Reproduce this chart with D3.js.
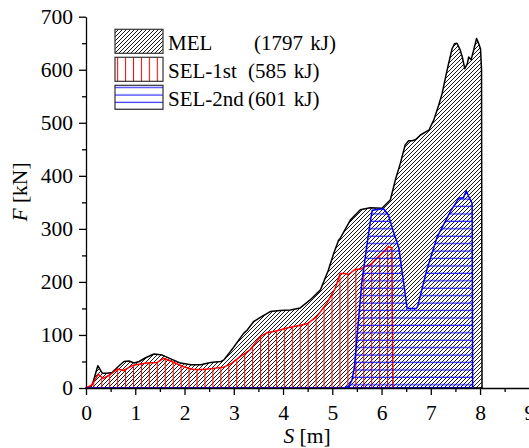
<!DOCTYPE html>
<html>
<head>
<meta charset="utf-8">
<script src="https://cdn.jsdelivr.net/npm/d3@7"></script>
<style>
  body { margin: 0; background: #fff; }
  svg { display: block; }
</style>
</head>
<body>
<svg id="chart"></svg>
<script>
// MEL curve
const melS = [0, 0.10, 0.14, 0.24, 0.33, 0.43, 0.53, 0.65, 0.77, 0.87, 0.98, 1.08, 1.21, 1.38, 1.55, 1.72, 1.92, 2.13, 2.33, 2.53, 2.74, 2.80, 2.99, 3.20, 3.27, 3.40, 3.54, 3.74, 3.94, 4.15, 4.35, 4.55, 4.76, 4.92, 5.03, 5.13, 5.16, 5.37, 5.57, 5.77, 6.01, 6.18, 6.28, 6.38, 6.48, 6.55, 6.62, 6.69, 6.79, 6.96, 7.06, 7.16, 7.23, 7.30, 7.36, 7.43, 7.48, 7.53, 7.59, 7.64, 7.69, 7.74, 7.77, 7.82, 7.87, 7.93, 7.97, 8.01, 8.03, 8.04];
const melF = [0, 2, 10, 42, 28, 28, 29, 40, 50, 51, 47, 50, 57, 64, 62, 55, 47, 44, 44, 48, 50, 53, 76, 103, 109, 125, 133, 144, 146, 147, 151, 166, 185, 222, 254, 279, 282, 317, 336, 340, 339, 355, 392, 423, 458, 466, 466, 468, 477, 486, 505, 533, 555, 586, 611, 639, 649, 650, 639, 624, 602, 611, 624, 619, 637, 659, 650, 639, 600, 0];

// SEL-1st curve
const sel1S = [0, 0.12, 0.25, 0.35, 0.49, 0.64, 0.76, 0.96, 1.23, 1.44, 1.57, 1.74, 1.98, 2.18, 2.38, 2.59, 2.79, 2.96, 3.13, 3.33, 3.54, 3.67, 3.88, 4.08, 4.28, 4.49, 4.69, 4.89, 5.06, 5.16, 5.26, 5.33, 5.47, 5.57, 5.67, 5.77, 5.91, 6.08, 6.14, 6.21, 6.23];
const sel1F = [0, 6, 26, 18, 25, 36, 33, 43, 47, 48, 56, 50, 40, 35, 35, 37, 39, 47, 59, 72, 97, 104, 108, 113, 117, 121, 135, 160, 188, 216, 216, 214, 224, 224, 229, 232, 245, 260, 267, 264, 0];

// SEL-2nd curve
const sel2S = [0, 5.23, 5.33, 5.40, 5.45, 5.60, 5.75, 5.81, 6.04, 6.14, 6.25, 6.31, 6.35, 6.52, 6.70, 6.73, 6.92, 7.13, 7.26, 7.40, 7.57, 7.66, 7.72, 7.77, 7.84, 7.85];
const sel2F = [0, 0, 3, 15, 40, 200, 300, 335, 338, 326, 292, 276, 265, 150, 150, 153, 223, 285, 308, 333, 358, 358, 372, 361, 348, 0];

const xTicks = [0, 1, 2, 3, 4, 5, 6, 7, 8, 9];
const yTicks = [0, 100, 200, 300, 400, 500, 600, 700];
const legendNames = ["MEL", "SEL-1st", "SEL-2nd"];
const legendEnergy = ["(1797 kJ)", "(585 kJ)", "(601 kJ)"];

const FONT = '"Liberation Serif"';
const width = 529, height = 448;
const svg = d3.select("#chart").attr("width", width).attr("height", height)
    .attr("font-family", "Liberation Serif");

const x = d3.scaleLinear().domain([0, 9]).range([86, 529.3]);
const y = d3.scaleLinear().domain([0, 700]).range([388, 16.7]);

// hatch patterns
const defs = svg.append("defs");
defs.append("pattern")
    .attr("id", "hatchDiag")
    .attr("patternUnits", "userSpaceOnUse")
    .attr("width", 4).attr("height", 4)
    .append("path")
    .attr("d", "M-1,1 L1,-1 M0,4 L4,0 M3,5 L5,3")
    .attr("stroke", "#000").attr("stroke-width", 0.9);
defs.append("pattern")
    .attr("id", "hatchVert")
    .attr("patternUnits", "userSpaceOnUse")
    .attr("width", 7.94).attr("height", 8)
    .append("line")
    .attr("x1", 6.5).attr("x2", 6.5).attr("y1", 0).attr("y2", 8)
    .attr("stroke", "#ff0000").attr("stroke-width", 1);
defs.append("pattern")
    .attr("id", "hatchHoriz")
    .attr("patternUnits", "userSpaceOnUse")
    .attr("width", 8).attr("height", 7.43)
    .append("line")
    .attr("x1", 0).attr("x2", 8).attr("y1", 5.8).attr("y2", 5.8)
    .attr("stroke", "#0000ff").attr("stroke-width", 1);

const series = [
    { s: melS, f: melF, fill: "url(#hatchDiag)", stroke: "#000" },
    { s: sel1S, f: sel1F, fill: "url(#hatchVert)", stroke: "#ff0000" },
    { s: sel2S, f: sel2F, fill: "url(#hatchHoriz)", stroke: "#0000ff" }
];

const area = d3.area()
    .x(d => x(d[0]))
    .y0(y(0))
    .y1(d => y(d[1]));

series.forEach(sr => {
    const pts = sr.s.map((v, i) => [v, sr.f[i]]);
    svg.append("path")
        .datum(pts)
        .attr("d", area)
        .attr("fill", sr.fill)
        .attr("stroke", sr.stroke)
        .attr("stroke-width", 1.5)
        .attr("stroke-linejoin", "round");
});

// axes
svg.append("g")
    .attr("transform", `translate(0,${y(0)})`)
    .call(d3.axisBottom(x).tickValues(xTicks).tickSize(7).tickSizeOuter(0).tickPadding(10).tickFormat(d3.format("d")));
const xMinor = svg.append("g")
    .attr("transform", `translate(0,${y(0)})`)
    .call(d3.axisBottom(x).tickValues(xTicks.slice(0, -1).map(d => d + 0.5)).tickSize(4).tickFormat(""));
xMinor.select(".domain").remove();

svg.append("g")
    .attr("transform", `translate(${x(0)},0)`)
    .call(d3.axisLeft(y).tickValues(yTicks).tickSize(7).tickSizeOuter(0).tickPadding(6).tickFormat(d3.format("d")));
const yMinor = svg.append("g")
    .attr("transform", `translate(${x(0)},0)`)
    .call(d3.axisLeft(y).tickValues(yTicks.slice(0, -1).map(d => d + 50)).tickSize(4).tickFormat(""));
yMinor.select(".domain").remove();

svg.selectAll("g").attr("font-family", "Liberation Serif");
svg.selectAll(".domain, .tick line").attr("stroke", "#000").attr("stroke-width", 1.3);
svg.selectAll(".tick text")
    .attr("fill", "#000")
    .style("font-family", FONT)
    .style("font-size", "21.5px");

// axis titles
const yTitle = svg.append("text")
    .attr("transform", "translate(27,192) rotate(-90)")
    .attr("text-anchor", "middle")
    .style("font-family", FONT)
    .style("font-size", "21.5px");
yTitle.append("tspan").style("font-style", "italic").style("font-family", FONT).text("F");
yTitle.append("tspan").style("font-family", FONT).text(" [kN]");

const xTitle = svg.append("text")
    .attr("x", 307).attr("y", 443)
    .attr("text-anchor", "middle")
    .style("font-family", FONT)
    .style("font-size", "21.5px");
xTitle.append("tspan").style("font-style", "italic").style("font-family", FONT).text("S");
xTitle.append("tspan").style("font-family", FONT).text(" [m]");

// legend
const legendFills = ["url(#hatchDiag)", "url(#hatchVert)", "url(#hatchHoriz)"];
const energyX = [254, 248, 248];
legendNames.forEach((name, i) => {
    const top = 29.3 + i * 28;
    svg.append("rect")
        .attr("x", 115).attr("y", top)
        .attr("width", 48).attr("height", 24)
        .attr("fill", legendFills[i])
        .attr("stroke", "#333").attr("stroke-width", 1.2);
    svg.append("text")
        .attr("x", 168).attr("y", top + 20.5)
        .style("font-family", FONT)
        .style("font-size", "21px")
        .text(name);
    svg.append("text")
        .attr("x", energyX[i]).attr("y", top + 20.5)
        .style("font-family", FONT)
        .style("font-size", "21px")
        .style("word-spacing", "2px")
        .text(legendEnergy[i]);
});
</script>
</body>
</html>
